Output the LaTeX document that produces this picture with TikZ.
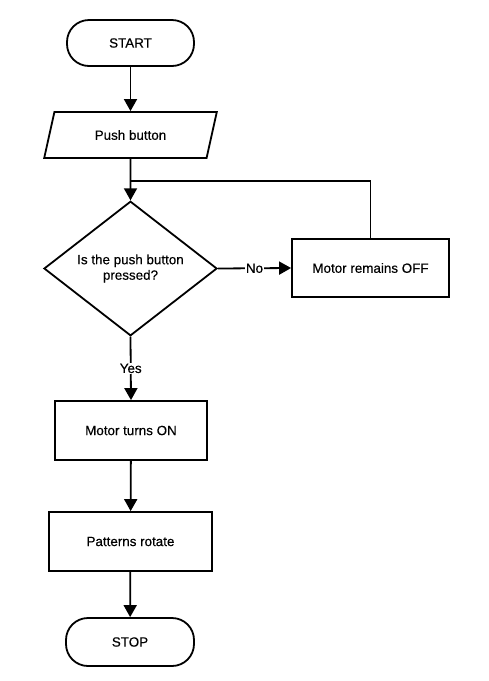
\documentclass[tikz,border=0pt]{standalone}
\usepackage{fontspec}
\setmainfont[FakeBold=0.4]{Liberation Sans}
\usetikzlibrary{shapes.geometric,arrows.meta}
\begin{document}
\begin{tikzpicture}[x=1pt,y=-1pt,
  every node/.style={font=\fontsize{13.4}{15.5}\selectfont, inner sep=0pt},
  term/.style={draw, line width=1.8pt, rounded corners=22pt, minimum width=127pt, minimum height=46pt},
  proc/.style={draw, line width=1.8pt, minimum height=59pt},
  io/.style={draw, line width=1.8pt, trapezium, trapezium left angle=64, trapezium right angle=116, trapezium stretches=true, minimum width=173pt, minimum height=46pt},
  decide/.style={draw, line width=1.8pt, diamond, minimum width=173pt, minimum height=127pt, align=center},
  flow/.style={line width=1.8pt, -{Triangle[width=13pt,length=12pt]}},
  plain/.style={line width=1.8pt},
  lbl/.style={fill=white, inner sep=1pt}]
\useasboundingbox[fill=white] (0,0) rectangle (488,681);
\node[term] (start) at (130.5,43) {START};
\node[io] (push) at (130.5,135) {Push button};
\node[decide] (dec) at (130.5,268.5) {Is the push button\\pressed?};
\node[proc, minimum width=157pt, minimum height=58pt] (off) at (370.5,268) {Motor remains OFF};
\node[proc, minimum width=152pt] (on) at (131,430.5) {Motor turns ON};
\node[proc, minimum width=163pt] (pat) at (130.5,541.5) {Patterns rotate};
\node[term, minimum width=128pt, minimum height=48pt] (stop) at (130,642) {STOP};
\coordinate (j) at (130.5,181);
\draw[flow] (start) -- (push);
\draw[flow] (push) -- (dec);
\draw[plain] (off.north) |- (j);
\draw[flow] (dec.east) -- node[lbl] {No} (off.west);
\draw[flow] (dec.south) -- node[lbl] {Yes} (on.north);
\draw[flow] (on) -- (pat);
\draw[flow] (pat) -- (stop);
\end{tikzpicture}
\end{document}
